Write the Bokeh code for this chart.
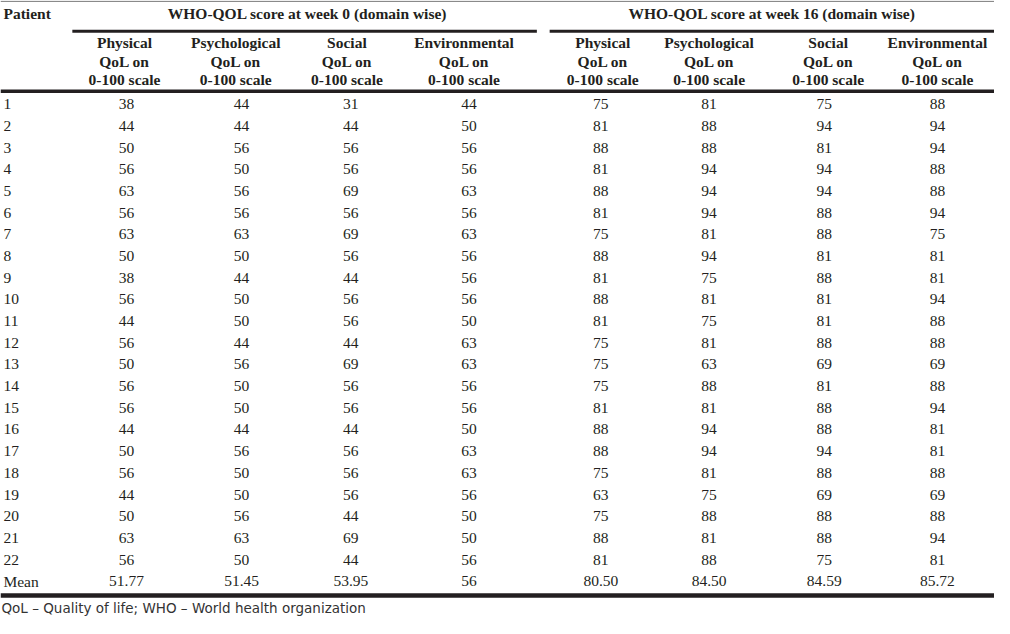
from bokeh.plotting import figure
from bokeh.models import Range1d, ColumnDataSource
from bokeh.core.properties import value
from bokeh.embed import file_html
from bokeh.resources import INLINE

# ---------------- data ----------------
patients = [str(i) for i in range(1, 23)]
domains = ["Physical", "Psychological", "Social", "Environmental"]
sub_line2 = "QoL on"
sub_line3 = "0-100 scale"
group_titles = ["WHO-QOL score at week 0 (domain wise)", "WHO-QOL score at week 16 (domain wise)"]
footnote = "QoL \u2013 Quality of life; WHO \u2013 World health organization"

phys_w0 = [38, 44, 50, 56, 63, 56, 63, 50, 38, 56, 44, 56, 50, 56, 56, 44, 50, 56, 44, 50, 63, 56]
psych_w0 = [44, 44, 56, 50, 56, 56, 63, 50, 44, 50, 50, 44, 56, 50, 50, 44, 56, 50, 50, 56, 63, 50]
social_w0 = [31, 44, 56, 56, 69, 56, 69, 56, 44, 56, 56, 44, 69, 56, 56, 44, 56, 56, 56, 44, 69, 44]
env_w0 = [44, 50, 56, 56, 63, 56, 63, 56, 56, 56, 50, 63, 63, 56, 56, 50, 63, 63, 56, 50, 50, 56]
phys_w16 = [75, 81, 88, 81, 88, 81, 75, 88, 81, 88, 81, 75, 75, 75, 81, 88, 88, 75, 63, 75, 88, 81]
psych_w16 = [81, 88, 88, 94, 94, 94, 81, 94, 75, 81, 75, 81, 63, 88, 81, 94, 94, 81, 75, 88, 81, 88]
social_w16 = [75, 94, 81, 94, 94, 88, 88, 81, 88, 81, 81, 88, 69, 81, 88, 88, 94, 88, 69, 88, 88, 75]
env_w16 = [88, 94, 94, 88, 88, 94, 75, 81, 81, 94, 88, 88, 69, 88, 94, 81, 81, 88, 69, 88, 94, 81]
means_w0 = ["51.77", "51.45", "53.95", "56"]
means_w16 = ["80.50", "84.50", "84.59", "85.72"]

columns = [phys_w0, psych_w0, social_w0, env_w0, phys_w16, psych_w16, social_w16, env_w16]
means = means_w0 + means_w16

# ---------------- layout (reference pixel space) ----------------
W, H = 1010, 634
data_cx = [128, 245, 356, 476, 610, 720, 837, 952]
head_cx = [126, 239, 352, 471, 612, 720, 841, 952]
group_cx = [312, 784]
group_line = [(73, 545), (558, 1010)]
dy = -5.5          # baseline correction for the renderer
row0 = 112.0 + dy
step = 22.24
serif = value("Liberation Serif")
ink = "#231f20"
FS = "15.5px"

p = figure(width=994, height=618, output_backend="svg", toolbar_location=None,
           x_range=Range1d(0, W), y_range=Range1d(H, 0),
           min_border=0, outline_line_color=None, background_fill_color="white",
           border_fill_color="white")
p.axis.visible = False
p.grid.visible = False

# rules
p.segment(x0=[0], y0=[0.8], x1=[W], y1=[0.8], line_color="#8a8a8a", line_width=1.2)
p.segment(x0=[g[0] for g in group_line], y0=[31.5, 31.5],
          x1=[g[1] for g in group_line], y1=[31.5, 31.5], line_color=ink, line_width=3)
p.segment(x0=[0], y0=[93], x1=[W], y1=[93], line_color=ink, line_width=3.5)
p.segment(x0=[0], y0=[610.5], x1=[W], y1=[610.5], line_color=ink, line_width=4.5)

# header texts
p.text(x=[3], y=[19 + dy], text=["Patient"], text_font=serif, text_font_size=FS,
       text_font_style="bold", text_align="left", text_baseline="alphabetic", text_color=ink)
p.text(x=group_cx, y=[19 + dy, 19 + dy], text=group_titles, text_font=serif, text_font_size=FS,
       text_font_style="bold", text_align="center", text_baseline="alphabetic", text_color=ink)
hdr = ColumnDataSource(dict(
    x=head_cx * 3,
    y=[49 + dy] * 8 + [68 + dy] * 8 + [87 + dy] * 8,
    t=domains * 2 + [sub_line2] * 8 + [sub_line3] * 8,
))
p.text(x="x", y="y", text="t", source=hdr, text_font=serif, text_font_size=FS,
       text_font_style="bold", text_align="center", text_baseline="alphabetic", text_color=ink)

# body
row_y = [row0 + i * step for i in range(len(patients))]
mean_y = row0 + len(patients) * step
p.text(x=[3] * (len(patients) + 1), y=row_y + [mean_y], text=patients + ["Mean"],
       text_font=serif, text_font_size=FS, text_align="left", text_baseline="alphabetic",
       text_color=ink)
bx, by, bt = [], [], []
for cx, col, m in zip(data_cx, columns, means):
    for yy, v in zip(row_y, col):
        bx.append(cx); by.append(yy); bt.append(str(v))
    bx.append(cx); by.append(mean_y); bt.append(m)
body = ColumnDataSource(dict(x=bx, y=by, t=bt))
p.text(x="x", y="y", text="t", source=body, text_font=serif, text_font_size=FS,
       text_align="center", text_baseline="alphabetic", text_color=ink)

# footnote
p.text(x=[1], y=[629 + dy], text=[footnote], text_font=value("DejaVu Sans"),
       text_font_size="13.5px", text_align="left", text_baseline="alphabetic", text_color="#333333")

open("out.html", "w").write(file_html(p, INLINE))
